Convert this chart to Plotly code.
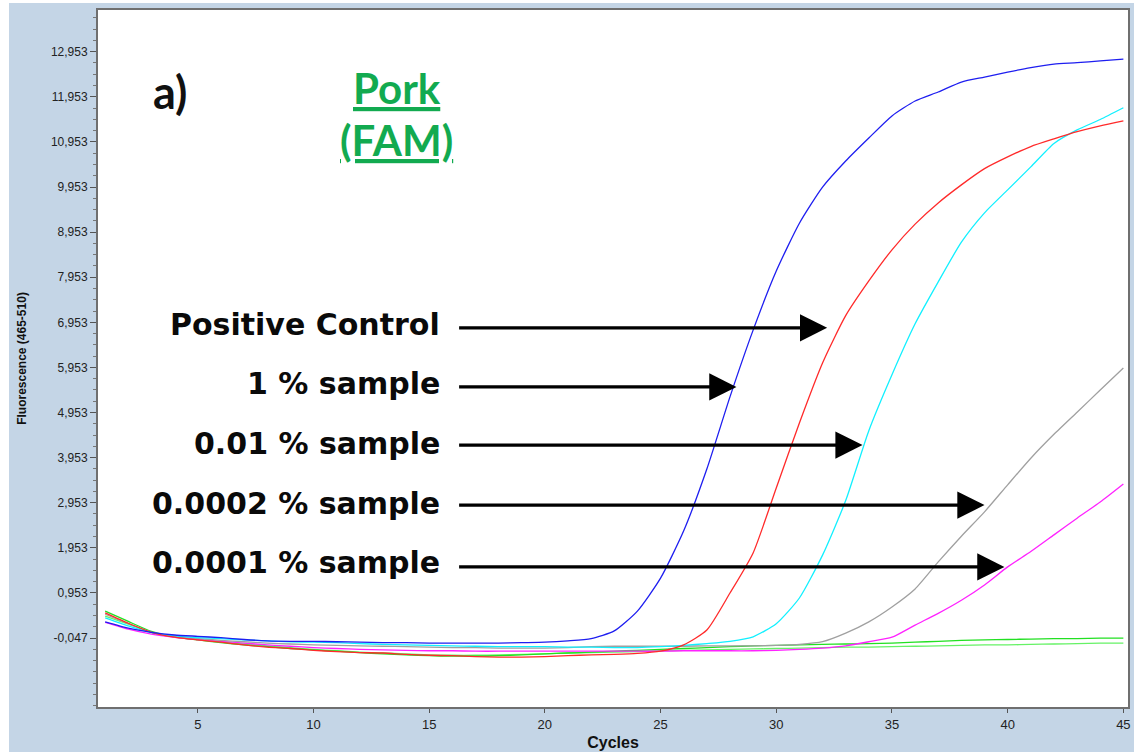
import plotly.graph_objects as go

cycles = list(range(1, 46))

positive_control = [0.31, 0.17, 0.08, 0.02, -0.01, -0.04, -0.08, -0.11, -0.12, -0.12,
                    -0.13, -0.14, -0.15, -0.15, -0.16, -0.16, -0.16, -0.16, -0.15, -0.14,
                    -0.11, -0.06, 0.11, 0.55, 1.28, 2.33, 3.70, 5.30, 6.78, 8.09,
                    9.15, 9.95, 10.53, 11.04, 11.53, 11.86, 12.06, 12.28, 12.39, 12.50,
                    12.60, 12.68, 12.71, 12.75, 12.79]
sample_1 = [0.51, 0.28, 0.08, -0.03, -0.09, -0.14, -0.20, -0.25, -0.28, -0.32,
            -0.35, -0.37, -0.38, -0.41, -0.43, -0.44, -0.46, -0.47, -0.47, -0.46,
            -0.44, -0.42, -0.41, -0.39, -0.34, -0.20, 0.13, 0.95, 1.84, 3.28,
            4.72, 6.05, 7.10, 7.87, 8.56, 9.13, 9.60, 10.00, 10.36, 10.62,
            10.85, 11.02, 11.18, 11.31, 11.42]
sample_001 = [0.40, 0.22, 0.07, 0.00, -0.04, -0.06, -0.09, -0.11, -0.13, -0.14,
              -0.15, -0.17, -0.19, -0.20, -0.21, -0.22, -0.23, -0.24, -0.24, -0.24,
              -0.25, -0.25, -0.26, -0.26, -0.24, -0.21, -0.17, -0.12, -0.02, 0.27,
              0.84, 1.79, 3.00, 4.55, 5.79, 6.92, 7.85, 8.73, 9.38, 9.89,
              10.40, 10.92, 11.22, 11.45, 11.71]
sample_00002 = [0.48, 0.27, 0.08, -0.02, -0.06, -0.10, -0.13, -0.16, -0.18, -0.20,
                -0.21, -0.22, -0.23, -0.24, -0.25, -0.26, -0.26, -0.27, -0.27, -0.27,
                -0.26, -0.24, -0.23, -0.23, -0.23, -0.23, -0.22, -0.22, -0.22, -0.21,
                -0.19, -0.13, 0.06, 0.31, 0.64, 1.04, 1.64, 2.21, 2.75, 3.35,
                3.94, 4.47, 4.96, 5.45, 5.94]
sample_00001 = [0.30, 0.15, 0.04, -0.03, -0.08, -0.12, -0.16, -0.20, -0.23, -0.26,
                -0.28, -0.30, -0.31, -0.32, -0.33, -0.33, -0.34, -0.34, -0.34, -0.34,
                -0.34, -0.34, -0.34, -0.34, -0.34, -0.33, -0.33, -0.33, -0.33, -0.32,
                -0.30, -0.27, -0.22, -0.13, -0.03, 0.24, 0.50, 0.79, 1.13, 1.53,
                1.87, 2.24, 2.61, 2.97, 3.37]
negative_a = [0.55, 0.32, 0.10, -0.02, -0.09, -0.15, -0.20, -0.24, -0.28, -0.31,
              -0.34, -0.37, -0.40, -0.42, -0.44, -0.45, -0.45, -0.44, -0.42, -0.40,
              -0.38, -0.36, -0.34, -0.32, -0.30, -0.28, -0.26, -0.24, -0.22, -0.21,
              -0.20, -0.19, -0.18, -0.17, -0.16, -0.14, -0.12, -0.10, -0.09, -0.08,
              -0.07, -0.06, -0.06, -0.05, -0.05]
negative_b = [0.44, 0.26, 0.08, -0.02, -0.08, -0.13, -0.18, -0.22, -0.26, -0.30,
              -0.33, -0.36, -0.38, -0.40, -0.42, -0.43, -0.43, -0.42, -0.41, -0.40,
              -0.38, -0.37, -0.36, -0.35, -0.33, -0.32, -0.31, -0.30, -0.29, -0.28,
              -0.27, -0.26, -0.25, -0.25, -0.24, -0.23, -0.22, -0.21, -0.20, -0.20,
              -0.19, -0.18, -0.17, -0.16, -0.16]

y_tick_values = [-0.047 + k for k in range(14)]
y_tick_text = ["-0,047", "0,953", "1,953", "2,953", "3,953", "4,953", "5,953",
               "6,953", "7,953", "8,953", "9,953", "10,953", "11,953", "12,953"]
x_tick_values = [5, 10, 15, 20, 25, 30, 35, 40, 45]

label_texts = ["Positive Control", "1 % sample", "0.01 % sample",
               "0.0002 % sample", "0.0001 % sample"]
label_y = [6.90, 5.60, 4.27, 2.94, 1.63]
arrow_y = [6.83, 5.52, 4.23, 2.90, 1.53]
arrow_head_x = [32.2, 28.28, 33.73, 39.0, 39.86]
arrow_tail_x = 16.23
label_x = 15.55

series = [
    (negative_b, "#66F266"),
    (negative_a, "#22E022"),
    (sample_00001, "#FF22FF"),
    (sample_00002, "#A0A0A0"),
    (sample_001, "#11F0FF"),
    (sample_1, "#FF2A2A"),
    (positive_control, "#1E1EF0"),
]

fig = go.Figure()
for vals, col in series:
    fig.add_trace(go.Scatter(x=cycles, y=vals, mode="lines",
                             line=dict(color=col, width=1.3, shape="spline", smoothing=0.6),
                             showlegend=False, hoverinfo="skip"))

W_PLOT = 1030.0
H_PLOT = 697.0
BG = "#C4D5E6"

annotations = []
for txt, ly, ay, hx in zip(label_texts, label_y, arrow_y, arrow_head_x):
    annotations.append(dict(x=label_x, y=ly, xref="x", yref="y", text="<b>" + txt + "</b>",
                            showarrow=False, xanchor="right", yanchor="middle",
                            font=dict(family="DejaVu Sans", size=30,
                                      color="#0a0a0a")))
    annotations.append(dict(x=hx, y=ay, xref="x", yref="y", ax=arrow_tail_x, ay=ay,
                            axref="x", ayref="y", text="", showarrow=True,
                            arrowhead=2, arrowsize=1.7, arrowwidth=3.2,
                            arrowcolor="#000000", standoff=0, startstandoff=0))

annotations.append(dict(x=3.79, y=12.06, xref="x", yref="y", text="<b>a)</b>",
                        showarrow=False, font=dict(family="Lato", size=45, color="#111111")))
annotations.append(dict(x=13.6, y=12.15, xref="x", yref="y", text="<b>Pork</b>",
                        showarrow=False,
                        font=dict(family="Lato", size=42, color="#12AA50", lineposition="under")))
annotations.append(dict(x=13.6, y=10.99, xref="x", yref="y", text="<b>(FAM)</b>",
                        showarrow=False,
                        font=dict(family="Lato", size=42, color="#12AA50", lineposition="under")))

shapes = [
    dict(type="rect", xref="paper", yref="paper", x0=-98 / W_PLOT, x1=-89 / W_PLOT,
         y0=-45 / H_PLOT, y1=1 + 10 / H_PLOT, fillcolor="white", line=dict(width=0),
         layer="below"),
    dict(type="rect", xref="paper", yref="paper", x0=-98 / W_PLOT, x1=1 + 6 / W_PLOT,
         y0=1 + 7 / H_PLOT, y1=1 + 10 / H_PLOT, fillcolor="white", line=dict(width=0),
         layer="below"),
]

fig.update_layout(
    width=1134, height=752,
    margin=dict(l=98, r=6, t=10, b=45, autoexpand=False),
    paper_bgcolor=BG, plot_bgcolor="white",
    annotations=annotations, shapes=shapes,
    xaxis=dict(range=[0.69, 45.2], tickvals=x_tick_values, ticks="outside",
               ticklen=4, tickcolor="#555555", showgrid=False, zeroline=False,
               showline=True, linecolor="#6f6f6f", linewidth=2, mirror=True,
               tickfont=dict(family="Liberation Sans Narrow, Liberation Sans", size=13,
                             color="#222222"),
               title=dict(text="<b>Cycles</b>", standoff=6,
                          font=dict(family="Liberation Sans Narrow, Liberation Sans",
                                    size=16, color="#111111"))),
    yaxis=dict(range=[-1.577, 13.878], tickvals=y_tick_values, ticktext=y_tick_text,
               ticks="outside", ticklen=6, tickcolor="#555555", showgrid=False,
               zeroline=False, showline=True, linecolor="#6f6f6f", linewidth=2,
               mirror=True,
               minor=dict(tick0=-0.047, dtick=0.25, ticks="outside", ticklen=3,
                          tickcolor="#777777", showgrid=False),
               tickfont=dict(family="Liberation Sans", size=12, color="#222222"),
               title=dict(text="<b>Fluorescence (465-510)</b>", standoff=22,
                          font=dict(family="Liberation Sans", size=12, color="#111111"))),
)

fig.write_html("out.html")
